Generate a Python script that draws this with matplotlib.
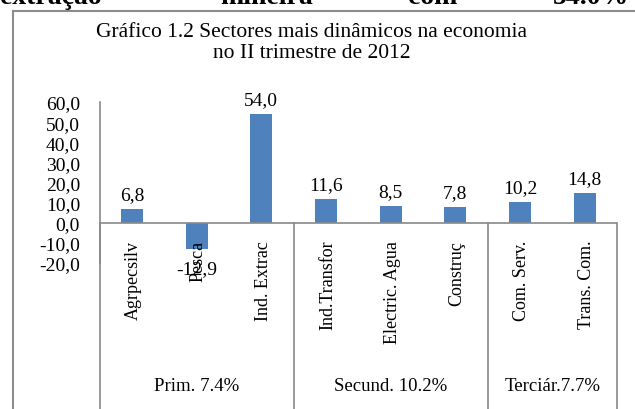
import matplotlib
matplotlib.use("Agg")
import matplotlib.pyplot as plt
from matplotlib.lines import Line2D

plt.rcParams["font.family"] = ["Liberation Serif", "DejaVu Serif"]

categories = ["Agrpecsilv", "Pesca", "Ind. Extrac", "Ind.Transfor",
              "Electric. Agua", "Construç", "Com. Serv.", "Trans. Com."]
values = [6.8, -12.9, 54.0, 11.6, 8.5, 7.8, 10.2, 14.8]
groups = ["Prim. 7.4%", "Secund. 10.2%", "Terciár.7.7%"]
group_sizes = [3, 3, 2]
yticks = [-20, -10, 0, 10, 20, 30, 40, 50, 60]

W, H = 635, 410
fig = plt.figure(figsize=(W / 100, H / 100), dpi=100)

# plot area in pixels: x 99.5..617, y 103 (60) .. 264 (-20)
x0, x1, ytop, ybot = 99.5, 617, 103, 264
ax = fig.add_axes([x0 / W, 1 - ybot / H, (x1 - x0) / W, (ybot - ytop) / H])

bar_color = "#4F81BD"
line_color = "#898989"

xs = list(range(len(categories)))
ax.bar(xs, values, width=0.34, color=bar_color, zorder=3)
ax.set_xlim(-0.5, len(categories) - 0.5)
ax.set_ylim(-20, 60)

for s in ["top", "right", "bottom"]:
    ax.spines[s].set_visible(False)
ax.spines["left"].set_color(line_color)
ax.spines["left"].set_linewidth(1.2)
ax.set_xticks([])
ax.set_yticks(yticks)
ax.set_yticklabels([f"{t:.1f}".replace(".", ",") for t in yticks], fontsize=14)
ax.tick_params(axis="y", length=0, pad=14)

ax.axhline(0, color=line_color, lw=1.2, zorder=4)

# pixels per data unit
ppu = (ybot - ytop) / 80.0
def py(pix):
    # pixel row -> data y
    return -(pix - 224) / ppu

# value labels
for x, v in zip(xs, values):
    if v >= 0:
        ax.text(x, v + 3.0, f"{v:.1f}".replace(".", ","), ha="center",
                va="bottom", fontsize=14)
    else:
        ax.text(x, v - 5.5, f"{v:.1f}".replace(".", ","), ha="center",
                va="top", fontsize=14)

# category labels (rotated)
for x, c in zip(xs, categories):
    ax.text(x + 0.03, py(241), c, rotation=90, ha="center", va="top",
            fontsize=13, clip_on=False)

# group separators and labels
edges = [-0.5]
for n in group_sizes:
    edges.append(edges[-1] + n)
for e in edges:
    ax.plot([e, e], [0, py(412)], color=line_color, lw=1.2, clip_on=False)
for i, g in enumerate(groups):
    ax.text((edges[i] + edges[i + 1]) / 2, py(387), g, ha="center",
            va="center", fontsize=13.5, clip_on=False)

# title
fig.text(312 / W, 1 - 37 / H, "Gráfico 1.2 Sectores mais dinâmicos na economia",
         ha="center", va="baseline", fontsize=15.5)
fig.text(312 / W, 1 - 58 / H, "no II trimestre de 2012",
         ha="center", va="baseline", fontsize=15.5)

# outer frame (runs off the page at right and bottom)
fig.add_artist(Line2D([13 / W, 1.0], [1 - 12 / H, 1 - 12 / H],
                      transform=fig.transFigure, color="#8c8c8c", lw=1.5))
fig.add_artist(Line2D([13 / W, 13 / W], [1 - 12 / H, 0.0],
                      transform=fig.transFigure, color="#8c8c8c", lw=1.5))

# cut-off line of body text above the chart
top_words = [("extração", 0), ("mineira", 220), ("com", 408), ("54.0%", 553)]
for word, px in top_words:
    fig.text(px / W, 1 - 4 / H, word, ha="left", va="baseline",
             fontsize=20, fontweight="bold")

fig.savefig("out.png", dpi=100)
